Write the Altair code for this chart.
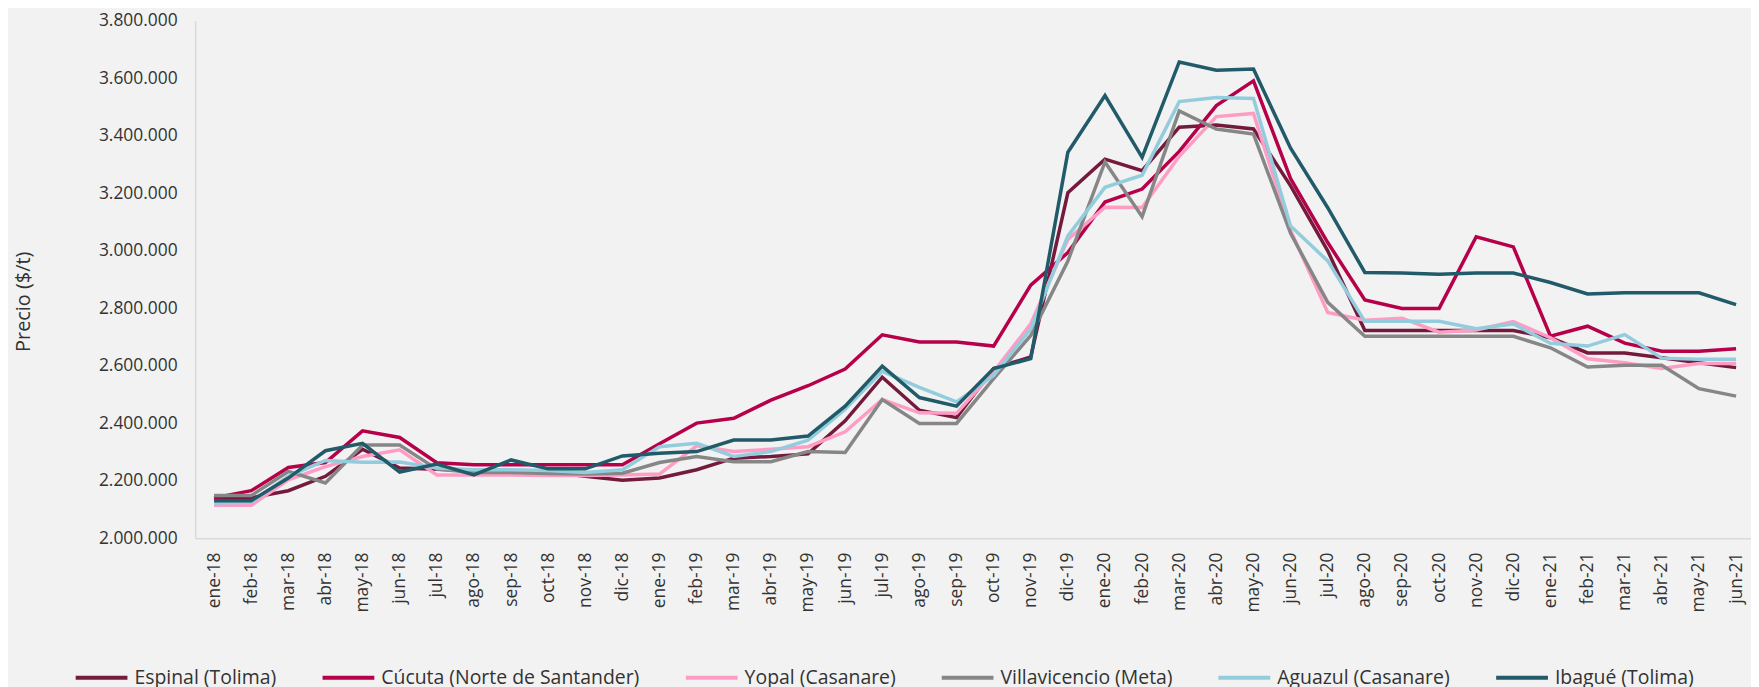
import altair as alt
import pandas as pd

meses = ["ene-18", "feb-18", "mar-18", "abr-18", "may-18", "jun-18", "jul-18", "ago-18", "sep-18",
         "oct-18", "nov-18", "dic-18", "ene-19", "feb-19", "mar-19", "abr-19", "may-19", "jun-19",
         "jul-19", "ago-19", "sep-19", "oct-19", "nov-19", "dic-19", "ene-20", "feb-20", "mar-20",
         "abr-20", "may-20", "jun-20", "jul-20", "ago-20", "sep-20", "oct-20", "nov-20", "dic-20",
         "ene-21", "feb-21", "mar-21", "abr-21", "may-21", "jun-21"]

espinal = [2140000, 2140000, 2165000, 2215000, 2309000, 2244000, 2240000, 2235000, 2232000,
           2230000, 2215000, 2201000, 2209000, 2238000, 2278000, 2284000, 2293000, 2408000,
           2560000, 2445000, 2419000, 2590000, 2630000, 3201000, 3318000, 3278000, 3429000,
           3437000, 3423000, 3225000, 2999000, 2722000, 2722000, 2722000, 2722000, 2722000,
           2697000, 2644000, 2644000, 2627000, 2610000, 2593000]

cucuta = [2140000, 2165000, 2246000, 2263000, 2373000, 2350000, 2262000, 2255000, 2255000,
          2255000, 2255000, 2255000, 2328000, 2400000, 2417000, 2480000, 2530000, 2588000,
          2707000, 2682000, 2682000, 2668000, 2880000, 2993000, 3169000, 3214000, 3345000,
          3504000, 3590000, 3250000, 3028000, 2828000, 2799000, 2799000, 3048000, 3013000,
          2702000, 2737000, 2678000, 2650000, 2650000, 2659000]

yopal = [2114000, 2114000, 2203000, 2249000, 2284000, 2307000, 2220000, 2220000, 2220000,
         2218000, 2218000, 2220000, 2223000, 2321000, 2301000, 2309000, 2318000, 2370000,
         2482000, 2436000, 2434000, 2578000, 2745000, 3039000, 3151000, 3150000, 3328000,
         3466000, 3477000, 3070000, 2785000, 2758000, 2765000, 2716000, 2724000, 2753000,
         2697000, 2624000, 2610000, 2590000, 2607000, 2607000]

villavicencio = [2148000, 2148000, 2232000, 2192000, 2324000, 2324000, 2240000, 2228000, 2228000,
                 2225000, 2223000, 2226000, 2263000, 2284000, 2266000, 2266000, 2301000, 2298000,
                 2482000, 2399000, 2399000, 2555000, 2705000, 2964000, 3308000, 3118000, 3486000,
                 3423000, 3405000, 3060000, 2820000, 2702000, 2702000, 2702000, 2702000, 2702000,
                 2662000, 2595000, 2601000, 2601000, 2520000, 2494000]

aguazul = [2122000, 2125000, 2215000, 2270000, 2264000, 2265000, 2244000, 2238000, 2238000,
           2235000, 2228000, 2238000, 2318000, 2330000, 2284000, 2301000, 2341000, 2448000,
           2580000, 2524000, 2474000, 2566000, 2728000, 3051000, 3220000, 3262000, 3518000,
           3532000, 3529000, 3085000, 2964000, 2754000, 2754000, 2754000, 2728000, 2745000,
           2678000, 2668000, 2708000, 2626000, 2622000, 2622000]

ibague = [2130000, 2130000, 2209000, 2304000, 2330000, 2230000, 2258000, 2220000, 2272000,
          2241000, 2241000, 2286000, 2295000, 2301000, 2341000, 2341000, 2355000, 2459000,
          2598000, 2489000, 2459000, 2590000, 2624000, 3342000, 3539000, 3324000, 3656000,
          3627000, 3631000, 3356000, 3149000, 2924000, 2922000, 2918000, 2922000, 2922000,
          2889000, 2849000, 2853000, 2853000, 2853000, 2812000]

nombres = ["Espinal (Tolima)", "Cúcuta (Norte de Santander)", "Yopal (Casanare)",
           "Villavicencio (Meta)", "Aguazul (Casanare)", "Ibagué (Tolima)"]
colores = ["#741B3D", "#B7004A", "#FF9CC4", "#868686", "#93CDDD", "#215A68"]
y_ticks = [2000000, 2200000, 2400000, 2600000, 2800000, 3000000, 3200000, 3400000, 3600000, 3800000]

valores = [espinal, cucuta, yopal, villavicencio, aguazul, ibague]
rows = []
for nombre, serie in zip(nombres, valores):
    for mes, v in zip(meses, serie):
        rows.append({"mes": mes, "serie": nombre, "precio": v})
df = pd.DataFrame(rows)

FONT = "Open Sans"
TXT = "#333333"

chart = alt.Chart(df).mark_line(strokeWidth=3.5).encode(
    x=alt.X("mes:N", sort=meses,
            scale=alt.Scale(type="point", padding=0.456, align=0.559),
            axis=alt.Axis(title=None, labelAngle=270, labelFont=FONT, labelFontSize=17.5,
                          labelColor=TXT, ticks=False, labelPadding=14,
                          domainColor="#D9D9D9", domainWidth=1.5, grid=False)),
    y=alt.Y("precio:Q",
            scale=alt.Scale(domain=[2000000, 3800000], nice=False, zero=False),
            axis=alt.Axis(title="Precio ($/t)", values=y_ticks,
                          labelExpr="replace(replace(format(datum.value, ','), ',', '.'), ',', '.')",
                          labelFont=FONT, labelFontSize=17.5, labelColor=TXT, ticks=False,
                          labelPadding=18, domainColor="#D9D9D9", domainWidth=1.5, grid=False,
                          titleFont=FONT, titleFontSize=20, titleFontWeight="normal",
                          titleColor=TXT, titleX=-166, titleY=282, titleAngle=270,
                          titleBaseline="alphabetic", titleAlign="center")),
    color=alt.Color("serie:N", sort=nombres,
                    scale=alt.Scale(domain=nombres, range=colores),
                    legend=alt.Legend(title=None, orient="none", direction="horizontal",
                                      legendX=-122, legendY=632, symbolType="stroke",
                                      symbolSize=2704, symbolStrokeWidth=4,
                                      labelFont=FONT, labelFontSize=19.5, labelColor=TXT,
                                      labelLimit=500, labelOffset=5, columnPadding=38,
                                      padding=0)),
).properties(
    width=1563, height=520,
    autosize=alt.AutoSizeParams(type="none"),
    padding={"left": 188, "top": 11, "right": 0, "bottom": 160},
    background="#F2F2F2",
).configure_view(strokeWidth=0)

chart.save("out.html", embed_options={"renderer": "svg", "actions": False})
